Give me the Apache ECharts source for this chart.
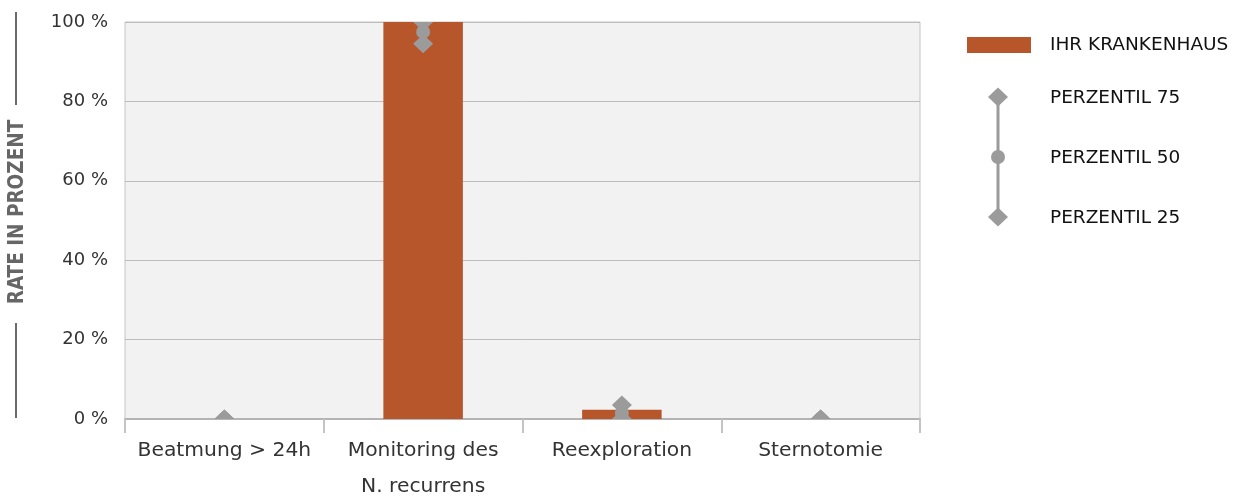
<!DOCTYPE html>
<html>
<head>
<meta charset="utf-8">
<script src="https://cdn.jsdelivr.net/npm/echarts@6/dist/echarts.min.js"></script>
<style>
  html, body { margin: 0; padding: 0; background: #ffffff; }
  #chart { width: 1237px; height: 500px; }
</style>
</head>
<body>
<div id="chart"></div>
<script>
// Kategorien und Werte
const categories = ['Beatmung > 24h', 'Monitoring des\nN. recurrens', 'Reexploration', 'Sternotomie'];
const hospitalRate = [0, 100, 2.3, 0];
const percentile25 = [0, 94.5, 0, 0];
const percentile50 = [0, 97.5, 1.5, 0];
const percentile75 = [0, 100, 3.5, 0];
const yTicks = [0, 20, 40, 60, 80, 100];

const BAR_COLOR = '#B7552B';
const MARK_COLOR = '#9B9B9B';
const FONT = '"DejaVu Sans", sans-serif';
const LEGEND_FONT = '18.5px ' + FONT;

function diamond(cx, cy, hw, hh) {
  return { type: 'polygon', shape: { points: [[cx, cy - hh], [cx + hw, cy], [cx, cy + hh], [cx - hw, cy]] }, style: { fill: MARK_COLOR } };
}

const percentileData = categories.map((c, i) => [i, percentile25[i], percentile50[i], percentile75[i]]);

const chart = echarts.init(document.getElementById('chart'), null, { renderer: 'canvas' });

chart.setOption({
  animation: false,
  grid: {
    left: 125, right: 317, top: 22, bottom: 81,
    outerBoundsMode: 'none', containLabel: false,
    show: true, backgroundColor: '#f2f2f2', borderColor: '#c4c4c4', borderWidth: 1
  },
  xAxis: {
    type: 'category',
    data: categories,
    axisLine: { lineStyle: { color: '#b4b4b4', width: 2 } },
    axisTick: { show: true, length: 14, lineStyle: { color: '#c4c4c4', width: 2 } },
    axisLabel: { interval: 0, color: '#333333', fontFamily: FONT, fontSize: 20.3, margin: 14, lineHeight: 36 }
  },
  yAxis: {
    type: 'value',
    min: 0, max: 100, interval: 20,
    axisLine: { show: false },
    axisTick: { show: false },
    splitLine: { lineStyle: { color: '#bdbdbd', width: 1 } },
    axisLabel: {
      color: '#333333', fontFamily: FONT, fontSize: 18, margin: 17,
      formatter: v => yTicks.includes(v) ? v + ' %' : ''
    }
  },
  series: [
    {
      name: 'IHR KRANKENHAUS',
      type: 'bar',
      data: hospitalRate,
      barWidth: '40%',
      itemStyle: { color: BAR_COLOR }
    },
    {
      name: 'Perzentile',
      type: 'custom',
      clip: true,
      data: percentileData,
      z: 5,
      renderItem: function (params, api) {
        const x = api.coord([api.value(0), 0])[0];
        const y25 = api.coord([api.value(0), api.value(1)])[1];
        const y50 = api.coord([api.value(0), api.value(2)])[1];
        const y75 = api.coord([api.value(0), api.value(3)])[1];
        return {
          type: 'group',
          children: [
            { type: 'line', shape: { x1: x, y1: y25, x2: x, y2: y75 }, style: { stroke: MARK_COLOR, lineWidth: 3 } },
            diamond(x, y75, 10, 9.5),
            { type: 'circle', shape: { cx: x, cy: y50, r: 7 }, style: { fill: MARK_COLOR } },
            diamond(x, y25, 10, 9.5)
          ]
        };
      }
    }
  ],
  graphic: [
    // Achsentitel mit Linien
    { type: 'line', shape: { x1: 16, y1: 12, x2: 16, y2: 105 }, style: { stroke: '#6b6b6b', lineWidth: 2 } },
    { type: 'line', shape: { x1: 16, y1: 323, x2: 16, y2: 418 }, style: { stroke: '#6b6b6b', lineWidth: 2 } },
    {
      type: 'text', x: 18, y: 212, rotation: Math.PI / 2,
      style: {
        text: 'RATE IN PROZENT', fill: '#666666', font: 'bold 20.5px "DejaVu Sans Condensed", "DejaVu Sans", sans-serif',
        textAlign: 'center', textVerticalAlign: 'middle'
      }
    },
    // Legende
    { type: 'rect', shape: { x: 967, y: 37, width: 64, height: 16 }, style: { fill: BAR_COLOR } },
    { type: 'text', x: 1050, y: 45, style: { text: 'IHR KRANKENHAUS', fill: '#111111', font: LEGEND_FONT, textVerticalAlign: 'middle' } },
    { type: 'line', shape: { x1: 998, y1: 97, x2: 998, y2: 217 }, style: { stroke: MARK_COLOR, lineWidth: 3 } },
    { type: 'polygon', shape: { points: [[998, 87.5], [1008, 97], [998, 106.5], [988, 97]] }, style: { fill: MARK_COLOR } },
    { type: 'circle', shape: { cx: 998, cy: 157, r: 7 }, style: { fill: MARK_COLOR } },
    { type: 'polygon', shape: { points: [[998, 207.5], [1008, 217], [998, 226.5], [988, 217]] }, style: { fill: MARK_COLOR } },
    { type: 'text', x: 1050, y: 98, style: { text: 'PERZENTIL 75', fill: '#111111', font: LEGEND_FONT, textVerticalAlign: 'middle' } },
    { type: 'text', x: 1050, y: 158, style: { text: 'PERZENTIL 50', fill: '#111111', font: LEGEND_FONT, textVerticalAlign: 'middle' } },
    { type: 'text', x: 1050, y: 218, style: { text: 'PERZENTIL 25', fill: '#111111', font: LEGEND_FONT, textVerticalAlign: 'middle' } }
  ]
});
</script>
</body>
</html>
